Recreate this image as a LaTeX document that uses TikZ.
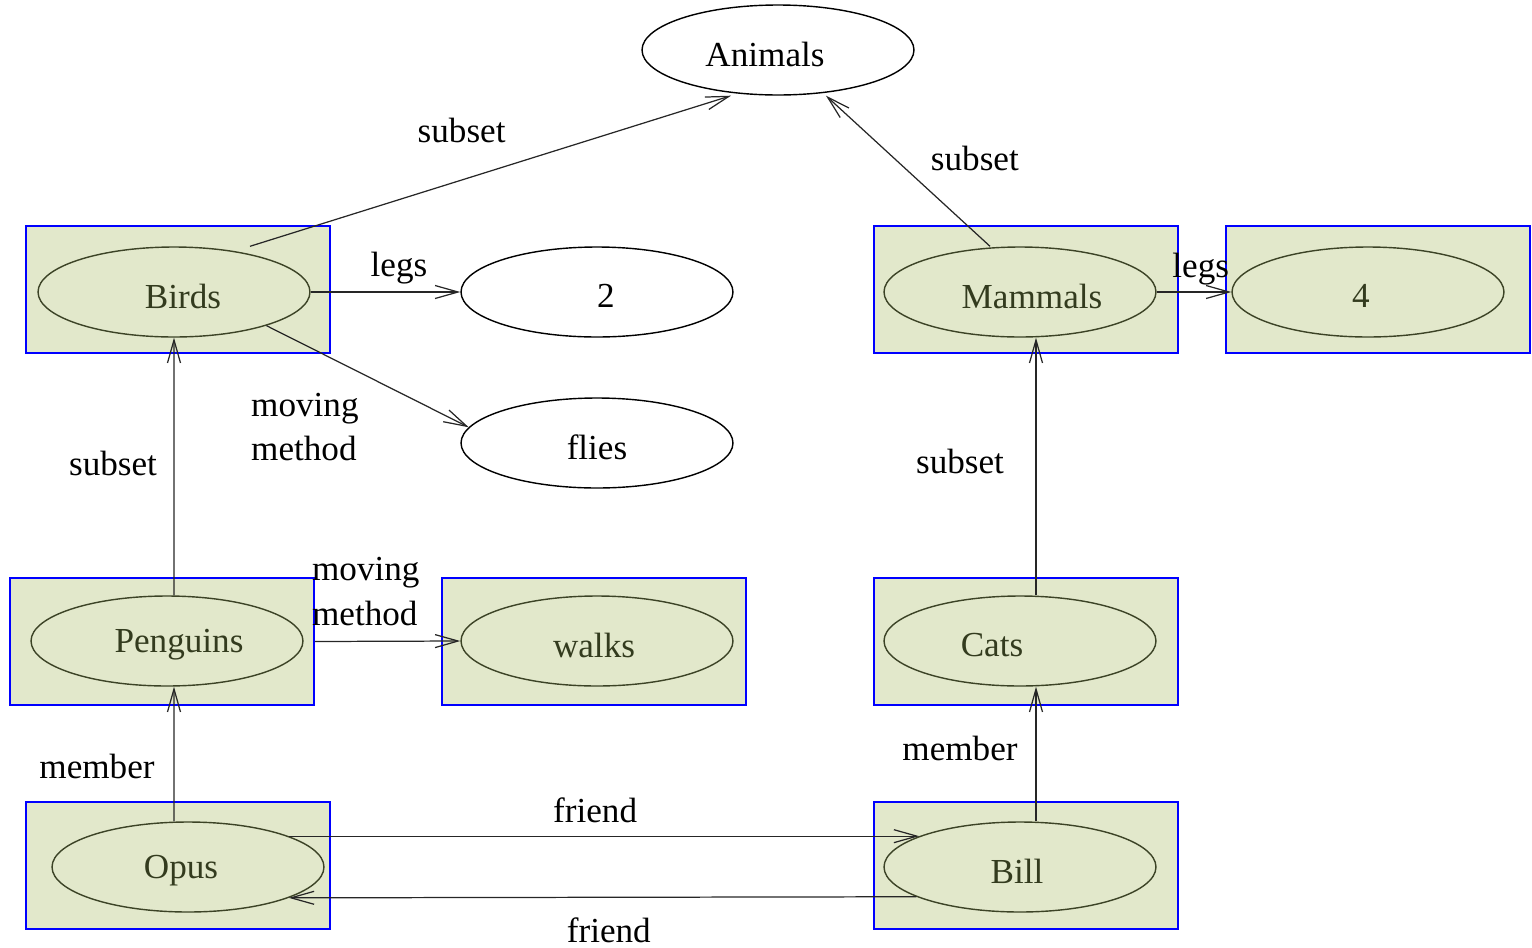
\documentclass[tikz,border=0pt]{standalone}
\usepackage{fontspec}
\setmainfont{Liberation Serif}
\usetikzlibrary{arrows.meta,shapes.geometric}
\definecolor{boxfill}{HTML}{E2E8CB}
\definecolor{olive}{HTML}{3C4326}
\definecolor{olivetext}{HTML}{333B1E}
% move a label inside its ellipse
\newcommand\nudge[2]{\makebox[0pt]{\hspace*{#1}\raisebox{-0.08cm}[\height][\depth]{#2}}}
\begin{document}
\begin{tikzpicture}[x=0.02cm,y=-0.02cm,
	>={Straight Barb[length=0.46cm,width=0.26cm,line width=0.7pt]},
	every node/.style={font=\fontsize{20}{25.5}\selectfont},
	lbl/.style={inner sep=0pt,text=black},
	conn/.style={->,draw=black!85,line width=0.7pt}]
	\useasboundingbox (0,0) rectangle (1532,947);
	% blue frames
	\begin{scope}[every node/.style={draw=blue,fill=boxfill,line width=1.1pt,minimum width=6.08cm,minimum height=2.54cm,inner sep=0}]
		\node (birdsbox) at (178,289.5) {};
		\node (mammalsbox) at (1026,289.5) {};
		\node (fourbox) at (1378,289.5) {};
		\node (penguinsbox) at (162,641.5) {};
		\node (walksbox) at (594,641.5) {};
		\node (catsbox) at (1026,641.5) {};
		\node (opusbox) at (178,865.5) {};
		\node (billbox) at (1026,865.5) {};
	\end{scope}
	% ellipses
	\begin{scope}[every node/.style={draw,ellipse,minimum width=5.44cm,minimum height=1.8cm,inner sep=0,line width=0.8pt,font=\fontsize{20}{25.5}\selectfont}]
		\node[draw=black,fill=white] (animals) at (778,50) {\nudge{-0.52cm}{Animals}};
		\node[draw=black,fill=white] (two) at (597,292) {\nudge{0.36cm}{2}};
		\node[draw=black,fill=white] (flies) at (597,443) {\nudge{0cm}{flies}};
		\node[draw=olive,text=olivetext] (birds) at (174,292) {\nudge{0.36cm}{Birds}};
		\node[draw=olive,text=olivetext] (mammals) at (1020,292) {\nudge{0.48cm}{Mammals}};
		\node[draw=olive,text=olivetext] (four) at (1368,292) {\nudge{-0.28cm}{4}};
		\node[draw=olive,text=olivetext] (penguins) at (167,641) {\nudge{0.48cm}{Penguins}};
		\node[draw=olive,text=olivetext] (walks) at (597,641) {\nudge{-0.12cm}{walks}};
		\node[draw=olive,text=olivetext] (cats) at (1020,641) {\nudge{-1.12cm}{Cats}};
		\node[draw=olive,text=olivetext] (opus) at (188,867) {\nudge{-0.28cm}{Opus}};
		\node[draw=olive,text=olivetext] (bill) at (1020,867) {\nudge{-0.12cm}{Bill}};
	\end{scope}
	\path ([xshift=1.52cm]birds.north) edge[conn] node[lbl,pos=0.44,yshift=1.0cm] {subset} ([xshift=-0.94cm]animals.south);
	\path ([xshift=-0.6cm]mammals.north) edge[conn] node[lbl,pos=0.58,xshift=1.6cm] {subset} ([xshift=0.96cm]animals.south);
	\path (birds.east) edge[conn] node[lbl,pos=0.59,yshift=0.48cm] {legs} (two.west);
	\path (birds.-20) edge[conn] node[lbl,pos=0.19,yshift=-1.64cm,align=left] {moving\\method} (flies.173);
	\path (mammals.east) edge[conn] node[lbl,pos=0.59,yshift=0.46cm] {legs} (four.west);
	\path ([xshift=0.14cm]penguins.north) edge[conn] node[lbl,pos=0.51,xshift=-1.22cm] {subset} (birds.south);
	\path (penguinsbox.east) edge[conn] node[lbl,pos=0.35,yshift=1.0cm,align=left] {moving\\method} (walks.west);
	\path ([xshift=-0.28cm]opus.north) edge[conn] node[lbl,pos=0.41,xshift=-1.54cm] {member} ([xshift=0.14cm]penguins.south);
	\path ([xshift=0.32cm]cats.north) edge[conn] node[lbl,pos=0.52,xshift=-1.52cm] {subset} ([xshift=0.32cm]mammals.south);
	\path ([xshift=0.32cm]bill.north) edge[conn] node[lbl,pos=0.54,xshift=-1.52cm] {member} ([xshift=0.32cm]cats.south);
	\path (opus.17) edge[conn] node[lbl,pos=0.486,yshift=0.52cm] {friend} (bill.163);
	\path (bill.196.5) edge[conn] node[lbl,pos=0.49,yshift=-0.66cm] {friend} (opus.343.5);
\end{tikzpicture}
\end{document}
